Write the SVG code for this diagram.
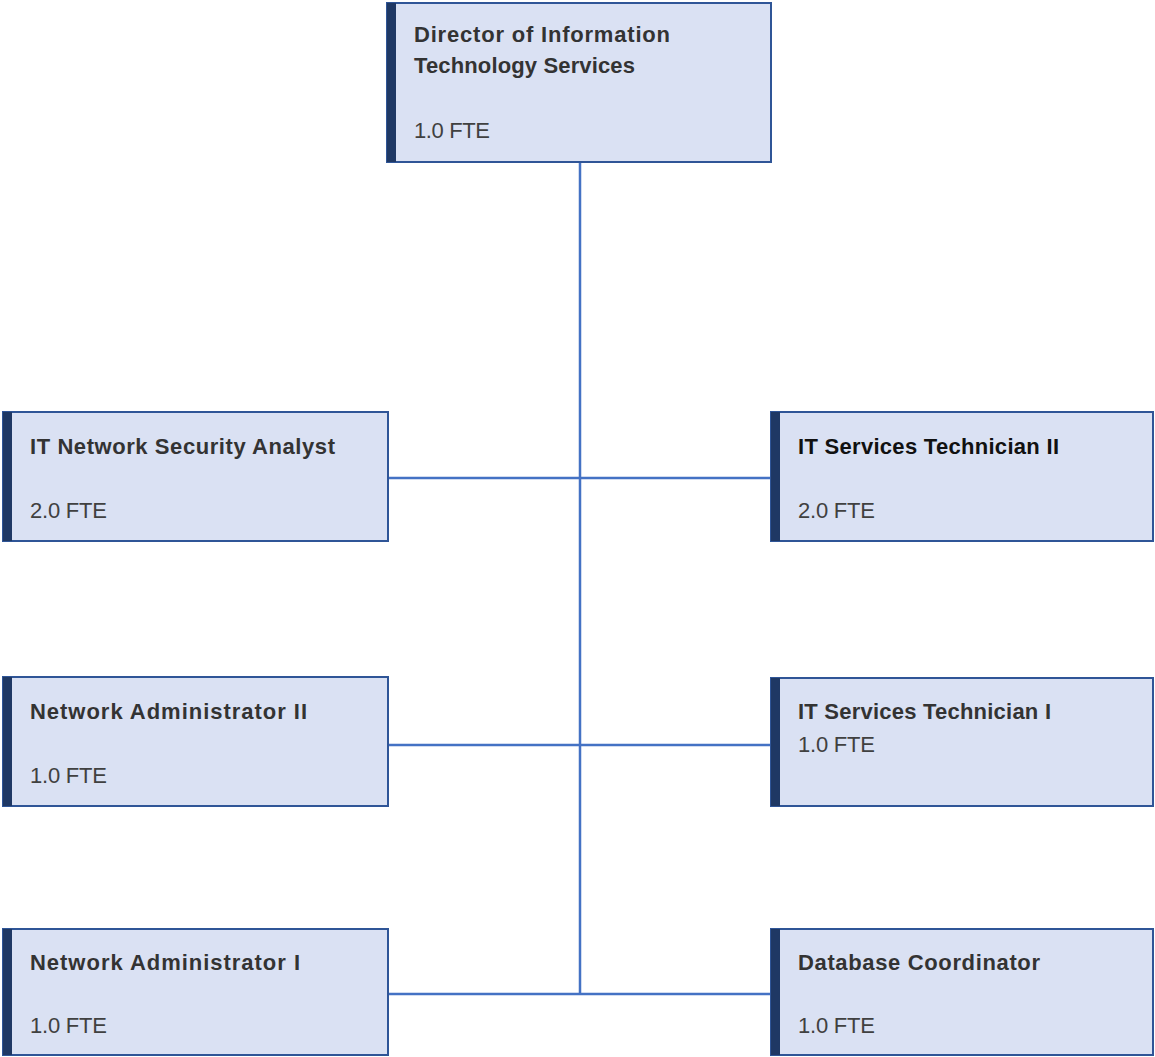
<svg xmlns="http://www.w3.org/2000/svg" width="1155" height="1057" viewBox="0 0 1155 1057">
<style>
.box{fill:#dae1f3;stroke:#2f5597;stroke-width:2}
.bar{fill:#1f3864}
.t{font-family:"Liberation Sans",Arial,sans-serif;font-size:22px;font-weight:bold;fill:#333333}
.f{font-family:"Liberation Sans",Arial,sans-serif;font-size:22px;fill:#404040}
.c{stroke:#4472c4;stroke-width:2.5;fill:none}
</style>
<rect width="1155" height="1057" fill="#ffffff"/>
<g id="connectors">
<line class="c" x1="580" y1="162" x2="580" y2="994"/>
<line class="c" x1="388" y1="478" x2="771" y2="478"/>
<line class="c" x1="388" y1="745" x2="771" y2="745"/>
<line class="c" x1="388" y1="994" x2="771" y2="994"/>
</g>
<g id="director">
<rect class="box" x="387" y="3" width="384" height="159"/>
<rect class="bar" x="387" y="3" width="9" height="159"/>
<text class="t" x="414" y="42" textLength="256" lengthAdjust="spacing">Director of Information</text>
<text class="t" x="414" y="73" textLength="221" lengthAdjust="spacing">Technology Services</text>
<text class="f" x="414" y="138" textLength="76" lengthAdjust="spacing">1.0 FTE</text>
</g>
<g id="security-analyst">
<rect class="box" x="3" y="412" width="385" height="129"/>
<rect class="bar" x="3" y="412" width="9" height="129"/>
<text class="t" x="30" y="454" textLength="305" lengthAdjust="spacing">IT Network Security Analyst</text>
<text class="f" x="30" y="518" textLength="77" lengthAdjust="spacing">2.0 FTE</text>
</g>
<g id="tech-2">
<rect class="box" x="771" y="412" width="382" height="129"/>
<rect class="bar" x="771" y="412" width="9" height="129"/>
<text class="t" x="798" y="454" textLength="261" lengthAdjust="spacing" style="fill:#111111">IT Services Technician II</text>
<text class="f" x="798" y="518" textLength="77" lengthAdjust="spacing">2.0 FTE</text>
</g>
<g id="netadmin-2">
<rect class="box" x="3" y="677" width="385" height="129"/>
<rect class="bar" x="3" y="677" width="9" height="129"/>
<text class="t" x="30" y="719" textLength="277" lengthAdjust="spacing">Network Administrator II</text>
<text class="f" x="30" y="783" textLength="77" lengthAdjust="spacing">1.0 FTE</text>
</g>
<g id="tech-1">
<rect class="box" x="771" y="678" width="382" height="128"/>
<rect class="bar" x="771" y="678" width="9" height="128"/>
<text class="t" x="798" y="719" textLength="253" lengthAdjust="spacing">IT Services Technician I</text>
<text class="f" x="798" y="752" textLength="77" lengthAdjust="spacing">1.0 FTE</text>
</g>
<g id="netadmin-1">
<rect class="box" x="3" y="929" width="385" height="126"/>
<rect class="bar" x="3" y="929" width="9" height="126"/>
<text class="t" x="30" y="970" textLength="270" lengthAdjust="spacing">Network Administrator I</text>
<text class="f" x="30" y="1033" textLength="77" lengthAdjust="spacing">1.0 FTE</text>
</g>
<g id="db-coordinator">
<rect class="box" x="771" y="929" width="382" height="126"/>
<rect class="bar" x="771" y="929" width="9" height="126"/>
<text class="t" x="798" y="970" textLength="242" lengthAdjust="spacing">Database Coordinator</text>
<text class="f" x="798" y="1033" textLength="77" lengthAdjust="spacing">1.0 FTE</text>
</g>
</svg>
